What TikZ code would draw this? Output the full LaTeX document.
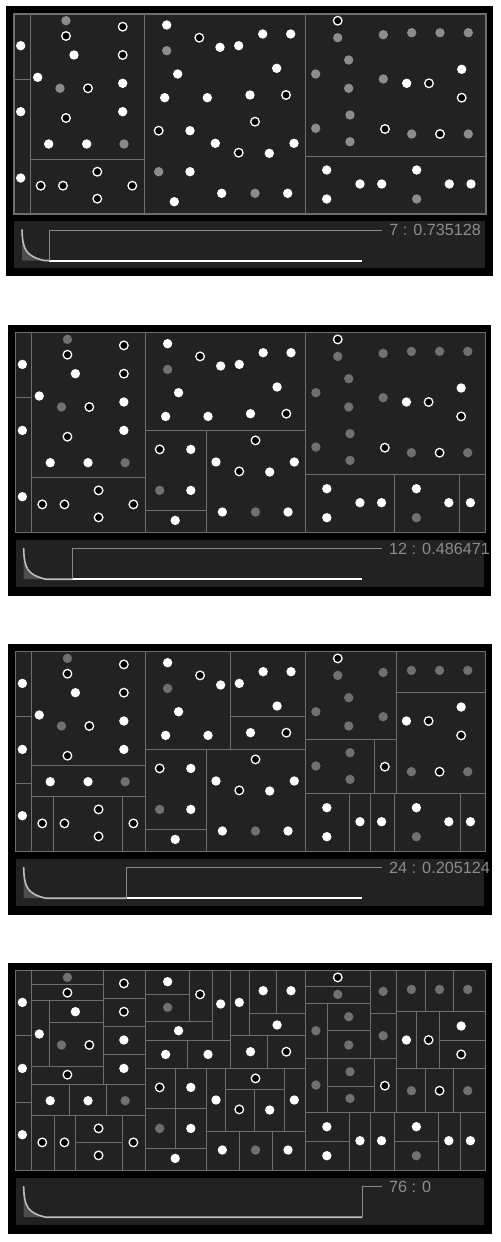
\documentclass[tikz,border=0pt]{standalone}
\usepackage{fontspec}
\setmainfont{Liberation Sans}
\definecolor{bgdark}{HTML}{222222}
\definecolor{linegray}{HTML}{6E6E6E}
\definecolor{ptgrayA}{HTML}{8C8C8C}
\definecolor{ptgrayB}{HTML}{707070}
\definecolor{histfill}{HTML}{4D4D4D}
\definecolor{curvegray}{HTML}{BDBDBD}
\definecolor{markgray}{HTML}{8A8A8A}
\definecolor{labgray}{HTML}{8C8C8C}
\def\wpts{6.7/31.7, 6.7/97.7, 6.7/164, 60/41, 23.7/63.3, 108.7/69.3, 108.7/97.7, 34.7/130, 72.7/130,
152.7/11, 206/33.3, 224.7/31.7, 248.7/20, 276.7/20, 163.7/60, 262.7/54.3, 150.7/83.7, 193.3/83.7, 236/81,
176/116.7, 201.3/129.3, 255.3/139.3, 280/129.3, 176/157.7, 207.7/179.3, 273.7/179.3, 160.3/187.7,
392.7/69.3, 447.7/55.3, 312.7/156, 312.7/185, 346/170, 367.7/170, 402.7/156, 435.3/170, 457/170}
\def\gpts{52/6.7, 46/74.3, 110/130, 152.7/36.7, 144.7/157.7, 241/179.3, 323.7/23.7, 369.3/20.7, 397.7/18.7,
426/18.7, 454.3/18.7, 334.7/46, 301.7/60, 334.7/74.3, 369.3/65, 336/101, 301.7/114.3, 336/127.7,
397.7/120, 454.3/120, 402.7/185}
\def\opts{108.7/12.7, 52/22, 108.7/41, 74/74.3, 52/104, 83.3/157.7, 26.7/171.7, 49/171.7, 118.3/171.7,
83.3/184.7, 185.3/23.7, 272/81, 241/107.7, 144.7/116.7, 224.7/138.7, 323.7/6.7, 415/69.3, 447.7/83.7,
371/115, 426/120}
\newcommand\mypts[1]{%
  \foreach \px/\py in \wpts {\fill[white] (\px,\py) circle[radius=4.7];}
  \foreach \px/\py in \gpts {\fill[#1] (\px,\py) circle[radius=4.7];}
  \foreach \px/\py in \opts {\filldraw[fill=black,draw=white,line width=0.65pt] (\px,\py) circle[radius=4.3];}
}
\newcommand\mybase{\fill[bgdark] (0,0) rectangle (472,200);
  \draw[part] (16,0)--(16,200) (0,65)--(16,65) (130.5,0)--(130.5,200) (291,0)--(291,200);}
\newcommand\myborder{\draw[linegray, line width=0.7pt] (0,0) rectangle (472,200);}
\newcommand\myhist[4]{%
  \fill[bgdark] (0,207) rectangle (470.5,254);
  \fill[histfill] (8,215.5) .. controls (8.5,236) and (12,242) .. (30,246.5) -- (8,246.5) -- cycle;
  \draw[curvegray, line width=0.8pt] (8,215.5) .. controls (8.5,236) and (12,242) .. (30,246.5) -- (#1,246.5);
  \draw[white, line width=1pt] (#1,246.5) -- (#4,246.5);
  \draw[markgray, line width=0.5pt] (#1,246.5) -- (#1,216) -- (368,216);
  \node[labtext] (#3) at (375,216) {#2};
}
\begin{document}
\begin{tikzpicture}[x=0.5pt,y=-0.5pt,
  part/.style={draw=linegray, line width=0.5pt},
  labtext/.style={anchor=west, inner sep=0pt, text=labgray, font=\fontsize{8.1pt}{9pt}\selectfont}]
\useasboundingbox (0,0) rectangle (501,1242);
\fill[white] (0,0) rectangle (501,1242);
% black frames
\fill[black] (6,6) rectangle (493,276);
\fill[black] (8,325) rectangle (491,596);
\fill[black] (8,644) rectangle (491.7,915);
\fill[black] (8,962.7) rectangle (491.7,1234);
% panel 1
\begin{scope}[shift={(14,14)}]
  \mybase
  \draw[part] (16,145)--(130.5,145) (291,142)--(472,142);
  \mypts{ptgrayA}
  \myborder
  \myhist{35}{7 : 0.735128}{lab1}{348.3}
\end{scope}
% panel 2
\begin{scope}[shift={(15.7,332.7)}, xscale=0.995]
  \mybase
  \draw[part] (16,145)--(130.5,145) (130.5,98)--(291,98) (192,98)--(192,200) (130.5,178)--(192,178)
    (291,142)--(472,142) (380.2,142)--(380.2,200) (446,142)--(446,200);
  \mypts{ptgrayB}
  \myborder
  \myhist{56.9}{12 : 0.486471}{lab2}{348.3}
\end{scope}
% panel 3
\begin{scope}[shift={(15.7,651.7)}, xscale=0.995]
  \mybase
  \draw[part] (0,131.6)--(16,131.6) (16,113.5)--(130.5,113.5) (16,145)--(130.5,145)
    (37.8,145)--(37.8,200) (107.5,145)--(107.5,200)
    (215.4,0)--(215.4,97.6) (215.4,65)--(291,65) (130.5,97.6)--(291,97.6)
    (192,97.6)--(192,200) (130.5,177.6)--(192,177.6)
    (382.9,0)--(382.9,142) (291,88)--(382.9,88) (360.1,88)--(360.1,142)
    (382.9,41)--(472,41) (291,142)--(472,142)
    (335,142)--(335,200) (356.8,142)--(356.8,200) (380.2,142)--(380.2,200) (446.6,142)--(446.6,200);
  \mypts{ptgrayB}
  \myborder
  \myhist{111.6}{24 : 0.205124}{lab3}{348.3}
\end{scope}
% panel 4
\begin{scope}[shift={(15.7,970.7)}, xscale=0.995]
  \mybase
  % left strip and left-middle
  \draw[part] (0,131.6)--(16,131.6)
    (88,0)--(88,113.5) (16,14)--(88,14) (16,30)--(88,30) (33.8,30)--(33.8,96) (33.8,52)--(88,52)
    (16,96)--(88,96) (88,27.6)--(130.5,27.6) (88,55.7)--(130.5,55.7) (88,83.6)--(130.5,83.6)
    (16,113.5)--(130.5,113.5) (53.9,113.5)--(53.9,145) (91.4,113.5)--(91.4,145)
    (16,145)--(130.5,145) (38.5,145)--(38.5,200) (60.6,145)--(60.6,200) (107.5,145)--(107.5,200)
    (60.6,172)--(107.5,172);
  % middle
  \draw[part] (130.5,23.6)--(174.5,23.6) (174.5,0)--(174.5,51) (130.5,51)--(198,51)
    (198,0)--(198,69.3) (130.5,69.3)--(215.4,69.3) (215.4,0)--(215.4,97.6)
    (234.5,0)--(234.5,65) (234.5,42.6)--(291,42.6) (262.3,0)--(262.3,42.6)
    (215.4,65)--(291,65) (253.2,65)--(253.2,97.6) (172.8,69.3)--(172.8,97.6)
    (130.5,97.6)--(291,97.6) (160.8,97.6)--(160.8,177.6) (130.5,137.6)--(192,137.6)
    (192,97.6)--(192,200) (130.5,177.6)--(192,177.6)
    (210.35,97.6)--(210.35,161) (192,161)--(291,161) (210.35,118.3)--(270,118.3)
    (270,97.6)--(270,161) (240.5,118.3)--(240.5,161) (224.8,161)--(224.8,200) (258,161)--(258,200);
  % right
  \draw[part] (291,15.3)--(356.1,15.3) (291,32.6)--(356.1,32.6) (356.1,0)--(356.1,88)
    (313.2,32.6)--(313.2,142) (313.2,59.3)--(356.1,59.3) (382.9,0)--(382.9,142)
    (356.1,42.6)--(382.9,42.6) (291,88)--(382.9,88) (360.1,88)--(360.1,142)
    (313.2,115.3)--(360.1,115.3)
    (382.9,41)--(472,41) (412,0)--(412,41) (440,0)--(440,41)
    (403,41)--(403,97.6) (425.8,41)--(425.8,97.6) (425.8,69.3)--(472,69.3)
    (382.9,97.6)--(472,97.6) (412,97.6)--(412,142) (440,97.6)--(440,142)
    (291,142)--(472,142)
    (335,142)--(335,200) (356.8,142)--(356.8,200) (380.2,142)--(380.2,200)
    (424.8,142)--(424.8,200) (446.6,142)--(446.6,200)
    (291,171)--(335,171) (380.2,171)--(424.8,171);
  \mypts{ptgrayB}
  \myborder
  \myhist{348.5}{76 : 0}{lab4}{348.5}
\end{scope}
\end{tikzpicture}
\end{document}
